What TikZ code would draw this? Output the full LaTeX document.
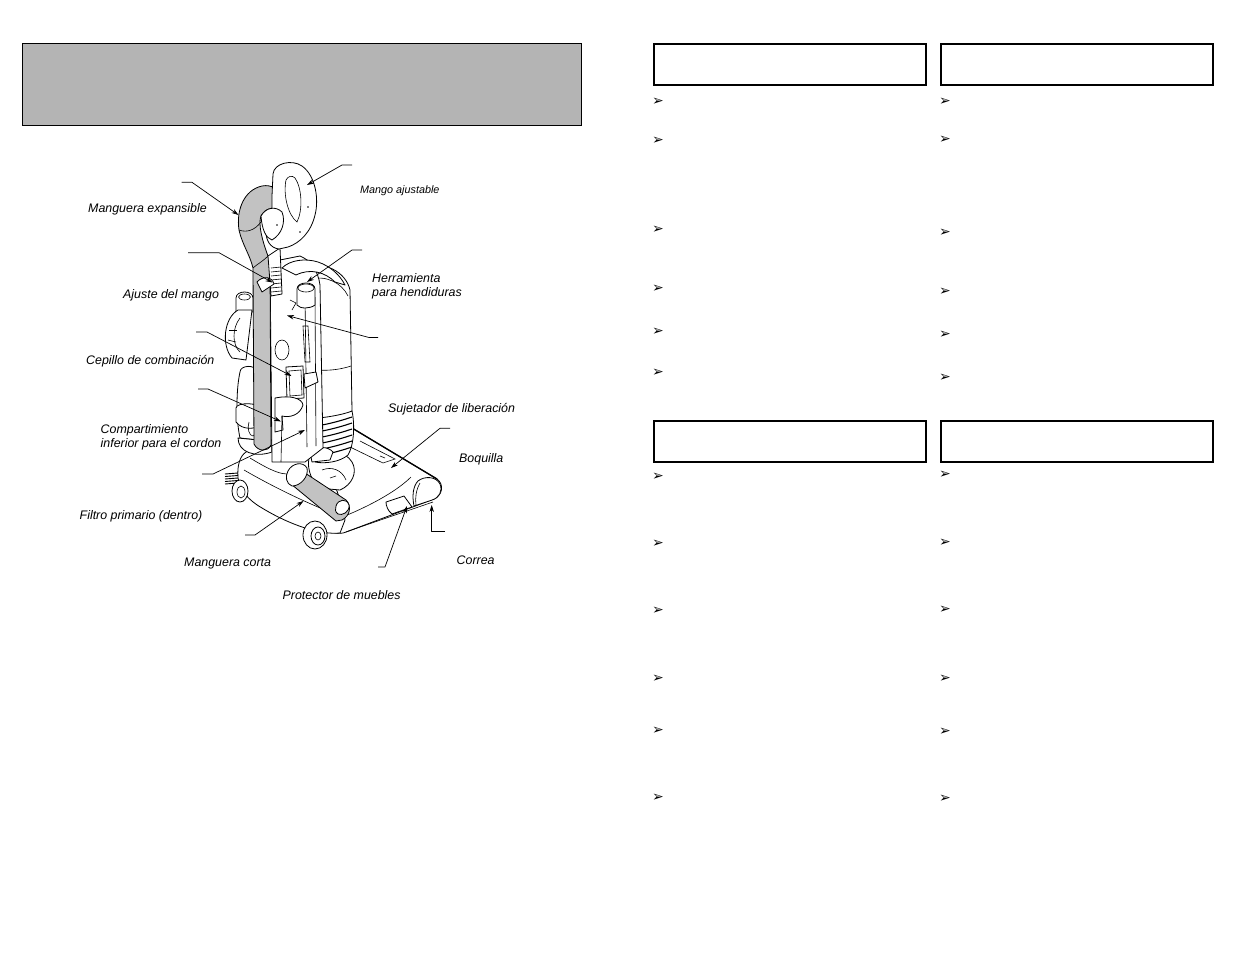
\documentclass[tikz,border=0pt]{standalone}
\usepackage{fontspec}
\setmainfont{Liberation Sans}
\newfontfamily\dejavu{DejaVu Sans}
\usetikzlibrary{arrows.meta}
\definecolor{hosegray}{gray}{0.76}
\definecolor{headgray}{gray}{0.705}
\begin{document}
\begin{tikzpicture}[x=1pt,y=-1pt,
  lbl/.style={anchor=base west,inner sep=0pt,font=\fontsize{12.4}{15}\selectfont\itshape},
  slbl/.style={anchor=base west,inner sep=0pt,font=\fontsize{10.8}{13}\selectfont\itshape},
  lead/.style={line width=0.7pt,line join=round,-{Stealth[length=7pt,width=4.5pt]}},
  part/.style={draw=black,fill=white,line width=0.8pt,line join=round},
  hose/.style={draw=black,fill=hosegray,line width=0.8pt,line join=round},
  det/.style={draw=black,line width=0.6pt},
  dark/.style={draw=black,line width=1.3pt},
  hdr/.style={draw=black,line width=2pt,anchor=north west,inner sep=0pt,minimum width=272pt,minimum height=41pt},
  bul/.style={anchor=west,inner sep=0pt,font=\dejavu\fontsize{14}{14}\selectfont}]
\useasboundingbox (0,0) rectangle (1235,954);
\fill[white] (0,0) rectangle (1235,954);

% ---------- title box ----------
\node (title) [draw=black,fill=headgray,line width=1.3pt,anchor=north west,inner sep=0pt,
  minimum width=559pt,minimum height=82pt] at (22,43) {};

% ---------- right header boxes ----------
\node (h1) [hdr] at (653,43) {};
\node (h2) [hdr] at (940,43) {};
\node (h3) [hdr] at (653,420) {};
\node (h4) [hdr] at (940,420) {};

% ---------- bullets ----------
\foreach \y [count=\i] in {102,141,230,289,332,373} {\node (ba\i) [bul] at (652,\y) {➢};}
\foreach \y [count=\i] in {102,140,233,292,335,378} {\node (bb\i) [bul] at (939,\y) {➢};}
\foreach \y [count=\i] in {477,544,611,679,731,798} {\node (bc\i) [bul] at (652,\y) {➢};}
\foreach \y [count=\i] in {475,543,610,679,732,799} {\node (bd\i) [bul] at (939,\y) {➢};}

% ================= VACUUM DRAWING =================
% --- nozzle base plate (back) ---
\draw[part] (352,428) -- (437,479) .. controls (444,484) and (443,495) .. (434,499)
  -- (346,532) .. controls (339,535) and (331,533) .. (326,528) -- (300,500) -- (300,440) -- cycle;
\draw[dark] (352,428) -- (437,479);
\draw[det] (350,447) -- (383,463) -- (395,459) -- (360,441);
\draw[det] (380,456) -- (385,458);
% nozzle end cap
\draw[part] (418,481) .. controls (424,476) and (436,476) .. (440,484)
  .. controls (443,491) and (439,498) .. (432,500) -- (414,506) .. controls (412,496) and (413,486) .. (418,481) -- cycle;
\draw[det] (420,483) .. controls (416,490) and (415,498) .. (416,505);
% surface crease and protector pad
\draw[det] (340,518) .. controls (365,508) and (395,493) .. (411,477);
\draw[part] (386,502) -- (404,496) -- (412,507) -- (392,514) .. controls (388,511) and (386,506) .. (386,502) -- cycle;
\draw[det] (346,532) .. controls (380,520) and (410,510) .. (433,502);

% --- base body (left) ---
\draw[part] (246,452) .. controls (258,446) and (290,452) .. (320,455)
  -- (330,470) -- (340,500) -- (345,520) -- (340,533)
  .. controls (320,535) and (290,525) .. (262,508) .. controls (248,500) and (240,490) .. (238,478)
  .. controls (237,465) and (240,456) .. (246,452) -- cycle;
\draw[det] (244,470) .. controls (270,485) and (300,500) .. (330,512);
\draw[det] (250,458) .. controls (270,470) and (285,478) .. (296,472);
% motor hood dome
\draw[part] (310,455) .. controls (325,448) and (345,450) .. (352,462)
  .. controls (358,472) and (352,485) .. (340,490) -- (318,488) .. controls (310,478) and (306,465) .. (310,455) -- cycle;
\draw[det] (322,470) .. controls (332,466) and (342,470) .. (346,480);
\draw[det] (330,478) -- (336,476);
% bristles left
\foreach \k in {0,1,2,3,4} {\draw[line width=0.9pt] (225,{474+\k*2.5}) -- (238,{473+\k*2.5});}
% left wheel
\draw[part] (240,491) ellipse [x radius=8,y radius=11];
\draw[det] (241,492) ellipse [x radius=4,y radius=6];
% front wheel
\draw[part] (315,535) ellipse [x radius=12,y radius=14];
\draw[part] (318,536) ellipse [x radius=7,y radius=9];
\draw[det] (318,536) ellipse [x radius=3,y radius=4];

% --- short hose ---
\draw[hose] (296,476) -- (302,471) -- (346,500) .. controls (352,506) and (350,516) .. (342,520)
  -- (336,521) -- (291,484) -- cycle;
\draw[part] (288,471) .. controls (292,463) and (303,461) .. (307,468)
  .. controls (309,476) and (301,486) .. (292,486) .. controls (286,484) and (285,476) .. (288,471) -- cycle;
\draw[part] (336,506) .. controls (338,499) and (347,498) .. (349,505)
  .. controls (350,512) and (342,516) .. (338,514) .. controls (335,512) and (335,509) .. (336,506) -- cycle;

% --- canister ---
\draw[part] (304,268) .. controls (324,260) and (346,272) .. (350,290) -- (352,411)
  .. controls (340,419) and (322,421) .. (306,418) -- cycle;
\draw[det] (309,280) .. controls (325,274) and (342,283) .. (348,296);
\draw[det] (318,370) .. controls (330,371) and (342,369) .. (351,366);
% brush-roll housing with ridges
\draw[part] (318,418) .. controls (330,417) and (345,414) .. (352,411)
  .. controls (355,425) and (354,445) .. (348,455) .. controls (340,462) and (325,464) .. (315,462) -- (312,430) -- cycle;
\foreach \k in {0,1,2,3,4,5} {\draw[line width=1.1pt] (316,{426+\k*6}) .. controls (330,{424+\k*6}) and (343,{420+\k*6}) .. (352,{417+\k*6});}
\draw[part] (310,452) .. controls (316,446) and (328,446) .. (333,452) -- (330,460) -- (312,462) -- cycle;

% --- left accessories ---
\draw[part] (236,298) .. controls (236,290) and (253,290) .. (253,298) -- (253,312) -- (236,312) -- cycle;
\draw[det] (244.5,297) ellipse [x radius=6,y radius=3];
\draw[part] (238,310) .. controls (224,318) and (221,345) .. (232,358) -- (246,360) -- (252,310) -- cycle;
\draw[det] (240,318) .. controls (232,328) and (232,345) .. (240,352);
\draw[det] (228,340) -- (236,342);
\draw[det] (229,330) -- (237,330);
% lower U-bend tube
\draw[part] (240,372) .. controls (240,365) and (256,364) .. (257,372) -- (258,440) -- (240,438) .. controls (236,420) and (236,390) .. (240,372) -- cycle;
\draw[part] (236,408) .. controls (236,402) and (262,402) .. (262,410) -- (262,424)
  .. controls (255,430) and (242,430) .. (236,422) -- cycle;
\draw[det] (249,422) .. controls (247,428) and (249,436) .. (253,436) .. controls (257,434) and (257,426) .. (255,422);
\draw[part] (238,438) .. controls (238,452) and (255,458) .. (272,452) -- (272,440) -- (258,440) -- cycle;

% --- central body column ---
\draw[part] (270,262) -- (300,256) .. controls (310,260) and (318,270) .. (320,285)
  -- (323,448) -- (305,462) -- (272,462) -- cycle;
\draw[det] (315,297) -- (316,446);
\draw[det] (305,296) -- (307,447);
\draw[det] (303,326) -- (305,362) -- (310,362) -- (308,326) -- cycle;
\draw[det] (282,350) ellipse [x radius=7,y radius=10];
\draw[part] (286,367) -- (303,366) -- (304,398) -- (287,399) -- cycle;
\draw[det] (289,371) -- (301,370) -- (302,395) -- (290,396) -- cycle;
\draw[part] (304,374) -- (316,372) -- (318,382) -- (305,388) -- cycle;
\draw[det] (290,300) -- (296,303) -- (292,310);
\draw[part] (275,398) .. controls (290,395) and (302,398) .. (303,405) .. controls (300,415) and (290,418) .. (282,416)
  -- (283,430) -- (275,432) -- cycle;
\draw[det] (282,416) -- (281,462);
% crevice tool top
\draw[part] (297,289) .. controls (297,281) and (315,281) .. (315,289) -- (315,305) .. controls (310,309) and (300,309) .. (297,305) -- cycle;
\draw[det] (306,288) ellipse [x radius=8,y radius=4];
% top cover around handle stem
\draw[part] (282,268) .. controls (290,260) and (305,258) .. (318,262) .. controls (330,266) and (340,275) .. (345,285)
  -- (335,282) .. controls (325,272) and (310,268) .. (296,275) -- cycle;

% --- expansible hose (gray) ---
\draw[hose] (239,230) .. controls (236,210) and (244,190) .. (262,186)
  .. controls (272,184) and (280,190) .. (284,198) -- (282,212)
  .. controls (276,206) and (266,207) .. (261,216)
  .. controls (258,224) and (262,240) .. (268,256)
  -- (270,268) -- (271,445) .. controls (268,452) and (258,452) .. (254,444)
  -- (253,268) .. controls (250,255) and (242,244) .. (239,230) -- cycle;
\draw[det] (239,230) .. controls (247,233) and (255,230) .. (261,222);
\draw[det] (268,256) .. controls (262,262) and (256,265) .. (253,268);
% handle stem and adjuster
\draw[part] (268,256) -- (280,248) -- (282,294) -- (271,296) -- cycle;
\foreach \k in {0,...,6} {\draw[det] (271,{268+\k*4}) -- (281,{267+\k*4});}
\draw[part] (257,282) .. controls (262,276) and (272,276) .. (274,284) -- (262,292) -- cycle;

% --- handle grip (Mango) ---
\draw[part] (272,196) -- (273,174) .. controls (274,163) and (292,159) .. (302,166)
  .. controls (316,176) and (319,200) .. (315,215)
  .. controls (311,232) and (300,243) .. (288,247)
  -- (279,249) .. controls (270,248) and (266,240) .. (266,232)
  -- (272,226) -- cycle;
\draw[det] (286,180) .. controls (283,195) and (288,215) .. (297,222) .. controls (303,210) and (302,188) .. (295,178) .. controls (292,175) and (288,176) .. (286,180) -- cycle;
\draw[part] (261,216) .. controls (266,207) and (276,206) .. (282,212) .. controls (286,222) and (282,234) .. (272,240)
  .. controls (266,238) and (262,230) .. (261,216) -- cycle;
\fill (277,225) circle (0.9);
\fill (308,207) circle (0.8);
\fill (300,232) circle (0.8);

% ================= LABELS =================
\node (t1)  [lbl]  at (88,212.5)  {Manguera expansible};
\node (t2)  [slbl] at (360,193.5) {Mango ajustable};
\node (t3)  [lbl]  at (123,298.5) {Ajuste del mango};
\node (t4)  [lbl]  at (372,282)   {Herramienta};
\node (t4b) [lbl]  at (372,296.5) {para hendiduras};
\node (t5)  [lbl]  at (86,364)    {Cepillo de combinación};
\node (t6)  [lbl]  at (100.5,433) {Compartimiento};
\node (t6b) [lbl]  at (100.5,447.5) {inferior para el cordon};
\node (t7)  [lbl]  at (388,412)   {Sujetador de liberación};
\node (t8)  [lbl]  at (459,462.5) {Boquilla};
\node (t9)  [lbl]  at (79.5,519)  {Filtro primario (dentro)};
\node (t10) [lbl]  at (184,566)   {Manguera corta};
\node (t11) [lbl]  at (456.5,564) {Correa};
\node (t12) [lbl]  at (282.5,599) {Protector de muebles};

% ================= LEADERS =================
\coordinate (s1) at (181.5,182.3); \coordinate (k1) at (192,182.3); \coordinate (e1) at (238.5,215);
\coordinate (s2) at (352,165);   \coordinate (k2) at (342,165);   \coordinate (e2) at (307,185);
\coordinate (s3) at (188,252.7); \coordinate (k3) at (219,252.7); \coordinate (e3) at (272.5,282.5);
\coordinate (s4) at (362,250);   \coordinate (k4) at (352,250);   \coordinate (e4) at (307,282);
\coordinate (s5) at (378,337.5); \coordinate (k5) at (369,337.5); \coordinate (e5) at (287,315.5);
\coordinate (s6) at (196,332);   \coordinate (k6) at (207,332);   \coordinate (e6) at (291.5,376);
\coordinate (s7) at (198,389);   \coordinate (k7) at (208,389);   \coordinate (e7) at (281,421.5);
\coordinate (s8) at (202,474);   \coordinate (k8) at (213,474);   \coordinate (e8) at (305,430);
\coordinate (s9) at (245,535);   \coordinate (k9) at (255,535);   \coordinate (e9) at (303.5,501);
\coordinate (s10) at (450,428.3); \coordinate (k10) at (440,428.3); \coordinate (e10) at (391,468);
\coordinate (s11) at (445,531.5); \coordinate (k11) at (431.7,531.5); \coordinate (e11) at (431.7,505);
\coordinate (s12) at (378,567);   \coordinate (k12) at (385,567);   \coordinate (e12) at (407,506);
\foreach \i in {1,...,12} {\draw[lead] (s\i) -- (k\i) -- (e\i);}
\end{tikzpicture}
\end{document}
